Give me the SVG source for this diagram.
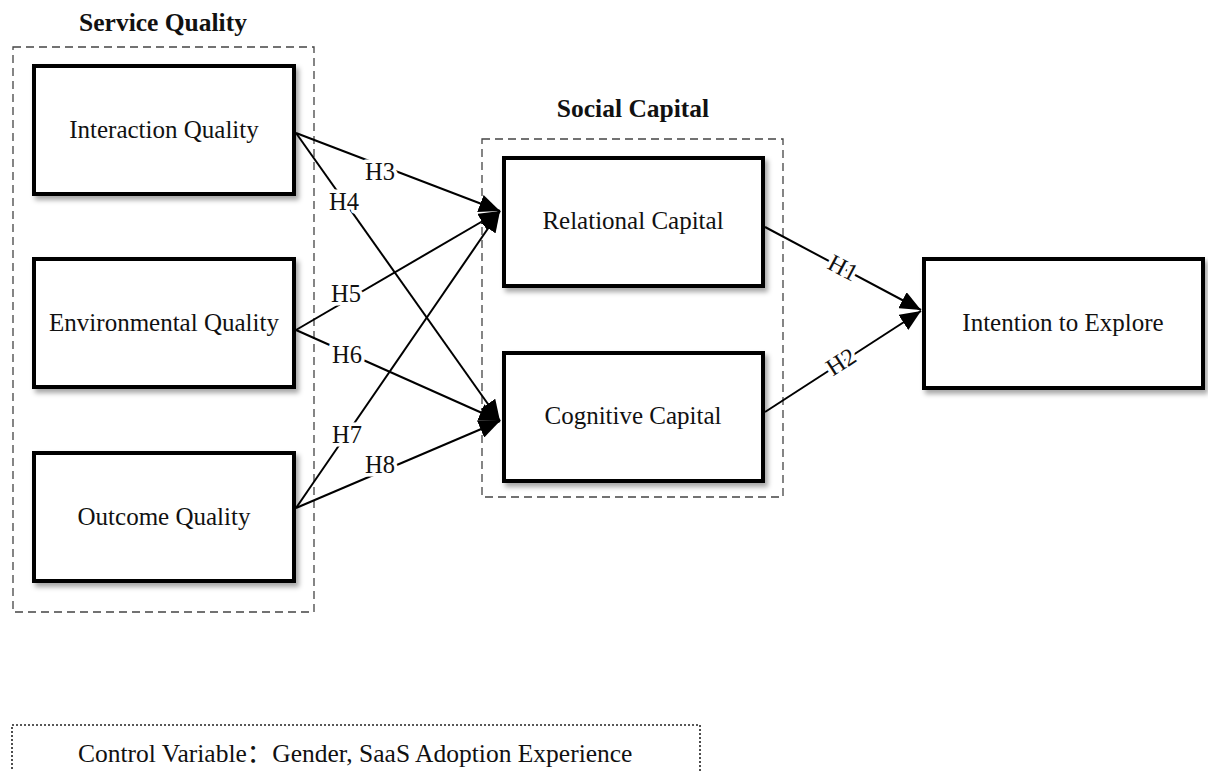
<svg xmlns="http://www.w3.org/2000/svg" width="1208" height="771" viewBox="0 0 1208 771">
<style>
.node{fill:#fff;stroke:#000;stroke-width:4;filter:url(#sh)}
.grp{fill:none;stroke:#444;stroke-width:1.3;stroke-dasharray:8 5}
.ctl{fill:none;stroke:#222;stroke-width:1.6;stroke-dasharray:2 2}
.t{font-family:"Liberation Serif","Times New Roman",serif;font-size:25px;fill:#111;text-anchor:middle}
.title{font-family:"Liberation Serif","Times New Roman",serif;font-size:25.5px;font-weight:bold;fill:#111;text-anchor:middle}
.edge{stroke:#000;stroke-width:2;fill:none;marker-end:url(#arr)}
.lbl{font-family:"Liberation Serif","Times New Roman",serif;font-size:24.5px;fill:#111;text-anchor:middle;stroke:#fff;stroke-width:7;paint-order:stroke;stroke-linejoin:round}
</style>
<defs>
<filter id="sh" x="-10%" y="-10%" width="125%" height="130%">
<feDropShadow dx="3" dy="4" stdDeviation="2.5" flood-color="#000" flood-opacity="0.35"/>
</filter>
<marker id="arr" markerUnits="userSpaceOnUse" markerWidth="22" markerHeight="18" refX="21" refY="9" orient="auto">
<path d="M0,0 L21,9 L0,18 Z" fill="#000"/>
</marker>
</defs>
<rect width="1208" height="771" fill="#fff"/>
<g id="group-service-quality">
<rect class="grp" x="13" y="47" width="301" height="565"/>
<text class="title" x="163" y="31">Service Quality</text>
</g>
<g id="group-social-capital">
<rect class="grp" x="482" y="139" width="301" height="358"/>
<text class="title" x="633" y="117">Social Capital</text>
</g>
<g id="connectors">
<line class="edge" x1="296" y1="133" x2="500" y2="211"/>
<line class="edge" x1="296" y1="133" x2="500" y2="421"/>
<line class="edge" x1="296" y1="330" x2="500" y2="211"/>
<line class="edge" x1="296" y1="330" x2="500" y2="421"/>
<line class="edge" x1="296" y1="508" x2="500" y2="211"/>
<line class="edge" x1="296" y1="508" x2="500" y2="421"/>
<line class="edge" x1="765" y1="227" x2="921" y2="310"/>
<line class="edge" x1="765" y1="412" x2="921" y2="311"/>
<text class="lbl" x="380" y="180">H3</text>
<text class="lbl" x="344" y="210">H4</text>
<text class="lbl" x="346" y="302">H5</text>
<text class="lbl" x="347" y="363">H6</text>
<text class="lbl" x="347" y="443">H7</text>
<text class="lbl" x="380" y="473">H8</text>
<text class="lbl" transform="translate(843,268) rotate(28)" x="0" y="8">H1</text>
<text class="lbl" transform="translate(841,362) rotate(-33)" x="0" y="8">H2</text>
</g>
<g id="node-interaction-quality">
<rect class="node" x="34" y="66" width="260" height="128"/>
<text class="t" x="164" y="138">Interaction Quality</text>
</g>
<g id="node-environmental-quality">
<rect class="node" x="34" y="259" width="260" height="128"/>
<text class="t" x="164" y="331">Environmental Quality</text>
</g>
<g id="node-outcome-quality">
<rect class="node" x="34" y="453" width="260" height="128"/>
<text class="t" x="164" y="525">Outcome Quality</text>
</g>
<g id="node-relational-capital">
<rect class="node" x="504" y="158" width="259" height="128"/>
<text class="t" x="633" y="229">Relational Capital</text>
</g>
<g id="node-cognitive-capital">
<rect class="node" x="504" y="353" width="259" height="128"/>
<text class="t" x="633" y="424">Cognitive Capital</text>
</g>
<g id="node-intention-to-explore">
<rect class="node" x="924" y="259" width="279" height="129"/>
<text class="t" x="1063" y="331">Intention to Explore</text>
</g>
<g id="control-variable">
<rect class="ctl" x="12" y="725" width="688" height="70"/>
<text class="t" x="78" y="762" style="text-anchor:start;font-size:25.5px">Control Variable<tspan font-family="'Noto Sans CJK SC',sans-serif">：</tspan>Gender, SaaS Adoption Experience</text>
</g>
</svg>
